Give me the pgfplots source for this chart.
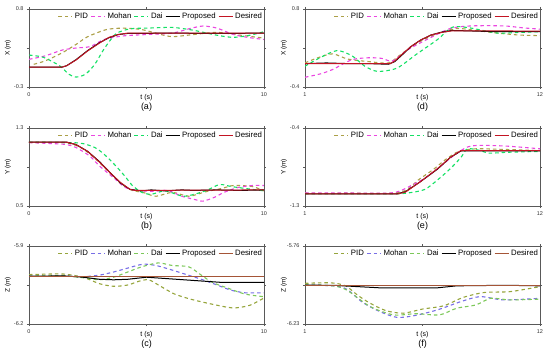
\documentclass[border=0pt]{standalone}
\usepackage{pgfplots}
\pgfplotsset{compat=1.18}
\usepackage{fontspec}
\setmainfont{Liberation Sans}
\definecolor{pidc}{RGB}{172,160,72}
\definecolor{mohc}{RGB}{235,70,225}
\definecolor{daic}{RGB}{20,225,100}
\definecolor{desc}{RGB}{195,20,35}
\definecolor{pidz}{RGB}{150,165,60}
\definecolor{mohz}{RGB}{120,110,230}
\definecolor{daiz}{RGB}{125,200,90}
\definecolor{desz}{RGB}{165,85,55}
\pgfplotsset{
  panel/.style={scale only axis, width=235pt, height=78pt,
    axis line style={black!65, line width=0.7pt},
    tick style={black!65, line width=0.6pt},
    tick align=outside, major tick length=2pt,
    ticklabel style={font=\fontsize{5.5}{6}\selectfont, text=black!80},
    /pgf/number format/assume math mode=true,
    legend columns=5,
    legend style={draw=none, fill=none, at={(1,1)}, anchor=north east, yshift=-1.5pt,
      font=\fontsize{7.8}{8}\selectfont, inner sep=0pt, outer sep=0pt,
      /tikz/every even column/.append style={column sep=0.5pt}},
    legend image code/.code={\draw[##1] (0pt,0pt) -- (14pt,0pt);},
    every axis plot/.append style={line width=1pt},
    no markers},
  dsh/.style={dash pattern=on 3.5pt off 3pt, line width=1.1pt, smooth, tension=0.45},
}
\begin{document}
\begin{tikzpicture}
\path[use as bounding box] (0pt,0pt) rectangle (550pt,-356pt);
% (a)
\begin{axis}[panel, at={(29pt,-9pt)}, anchor=north west,
  xmin=0, xmax=10, ymin=-0.3, ymax=0.8,
  xtick={0,5,10}, xticklabels={0,,10},
  ytick={-0.3,0.25,0.8}, yticklabels={-0.3,,0.8}]
\addplot[pidc, dsh] coordinates {(0.2,0.02)(0.7,0.07)(1.4,0.18)(2.0,0.30)(2.5,0.41)(3.3,0.51)(4.0,0.53)(4.8,0.51)(5.5,0.45)(6.1,0.41)(7.0,0.44)(8.0,0.47)(9.0,0.43)(10,0.39)};
\addlegendentry{PID}
\addplot[mohc, dsh] coordinates {(0,0.09)(0.7,0.14)(1.4,0.22)(2.0,0.25)(2.6,0.27)(3.2,0.37)(4.0,0.42)(5.0,0.44)(6.1,0.46)(6.8,0.52)(7.4,0.56)(8.0,0.53)(8.7,0.44)(9.3,0.40)(10,0.37)};
\addlegendentry{Mohan}
\addplot[daic, dsh] coordinates {(0,0.15)(0.6,0.12)(1.3,0.0)(1.7,-0.12)(2.0,-0.16)(2.4,-0.12)(2.8,0.02)(3.2,0.24)(3.7,0.45)(4.3,0.52)(5.0,0.53)(6.1,0.54)(7.0,0.50)(8.0,0.43)(8.7,0.40)(9.4,0.43)(10,0.48)};
\addlegendentry{Dai}
\addplot[black] coordinates {(0,-0.02)(1.4,-0.02)(1.6,0.0)(2.0,0.085)(2.5,0.215)(3.0,0.325)(3.4,0.395)(3.8,0.44)(4.2,0.455)(6,0.46)(8,0.455)(10,0.46)};
\addlegendentry{Proposed}
\addplot[desc] coordinates {(0,-0.02)(1.4,-0.02)(1.6,0.0)(2.0,0.08)(2.5,0.21)(3.0,0.32)(3.4,0.40)(3.8,0.44)(4.2,0.46)(10,0.46)};
\addlegendentry{Desired}
\end{axis}
% (d)
\begin{axis}[panel, at={(305pt,-9pt)}, anchor=north west,
  xmin=1, xmax=12, ymin=-0.4, ymax=0.8,
  xtick={1,6.5,12}, xticklabels={1,,12},
  ytick={-0.4,0.2,0.8}, yticklabels={-0.4,,0.8}]
\addplot[pidc, dsh] coordinates {(1,-0.03)(1.6,0.05)(2.3,0.11)(3.0,0.03)(4.0,-0.01)(4.9,-0.03)(5.4,0.08)(5.9,0.2)(6.5,0.32)(7.2,0.42)(8.1,0.50)(9,0.47)(10,0.43)(11,0.40)(12,0.39)};
\addlegendentry{PID}
\addplot[mohc, dsh] coordinates {(1,-0.25)(1.7,-0.2)(2.3,-0.13)(3.2,0.02)(4.0,0.05)(4.6,0.04)(5.1,0.0)(5.8,0.17)(6.7,0.33)(7.8,0.50)(8.8,0.54)(10.3,0.54)(11.2,0.51)(12,0.49)};
\addlegendentry{Mohan}
\addplot[daic, dsh] coordinates {(1,-0.08)(1.7,0.05)(2.5,0.16)(3.2,0.08)(3.8,-0.08)(4.4,-0.16)(5.3,-0.11)(6.2,0.10)(7.2,0.33)(7.9,0.52)(8.7,0.51)(10,0.43)(11,0.44)(12,0.45)};
\addlegendentry{Dai}
\addplot[black] coordinates {(1,-0.04)(2,-0.03)(3,-0.04)(4,-0.04)(4.9,-0.05)(5.2,-0.01)(5.6,0.11)(5.95,0.22)(6.4,0.32)(6.9,0.40)(7.4,0.445)(7.9,0.47)(9,0.46)(10,0.45)(12,0.45)};
\addlegendentry{Proposed}
\addplot[desc] coordinates {(1,-0.04)(5.0,-0.04)(5.2,0.0)(5.6,0.12)(5.95,0.22)(6.4,0.32)(6.9,0.40)(7.4,0.44)(7.9,0.465)(12,0.46)};
\addlegendentry{Desired}
\end{axis}
% (b)
\begin{axis}[panel, at={(29pt,-128pt)}, anchor=north west,
  xmin=0, xmax=10, ymin=0.5, ymax=1.3,
  xtick={0,5,10}, xticklabels={0,,10},
  ytick={0.5,0.9,1.3}, yticklabels={0.5,,1.3}]
\addplot[pidc, dsh] coordinates {(0,1.15)(1.5,1.15)(2.2,1.10)(2.8,0.99)(3.4,0.85)(3.9,0.73)(4.4,0.66)(4.85,0.64)(5.4,0.60)(6.1,0.64)(6.8,0.60)(7.5,0.645)(8.2,0.68)(8.7,0.71)(9.5,0.70)(10,0.655)};
\addlegendentry{PID}
\addplot[mohc, dsh] coordinates {(0,1.15)(1.0,1.14)(1.6,1.13)(2.0,1.10)(2.6,1.01)(3.0,0.91)(3.6,0.79)(4.1,0.69)(4.6,0.66)(5.3,0.65)(5.9,0.66)(6.5,0.60)(7.0,0.57)(7.4,0.55)(7.9,0.59)(8.3,0.64)(8.9,0.69)(9.5,0.71)(10,0.71)};
\addlegendentry{Mohan}
\addplot[daic, dsh] coordinates {(0,1.155)(1.8,1.15)(2.3,1.14)(2.8,1.10)(3.2,1.03)(3.7,0.91)(4.1,0.80)(4.4,0.71)(4.8,0.64)(5.2,0.62)(5.8,0.655)(6.6,0.60)(7.5,0.655)(8.1,0.72)(8.6,0.70)(9.2,0.68)(10,0.655)};
\addlegendentry{Dai}
\addplot[black] coordinates {(0,1.155)(1.6,1.155)(2.0,1.13)(2.5,1.06)(3.0,0.955)(3.5,0.83)(3.9,0.735)(4.3,0.67)(4.8,0.655)(5.2,0.665)(5.8,0.655)(6.5,0.665)(7,0.66)(8,0.665)(9,0.66)(10,0.665)};
\addlegendentry{Proposed}
\addplot[desc] coordinates {(0,1.155)(1.6,1.155)(2.0,1.13)(2.5,1.06)(3.0,0.95)(3.5,0.83)(3.9,0.74)(4.3,0.67)(4.5,0.66)(10,0.665)};
\addlegendentry{Desired}
\end{axis}
% (e)
\begin{axis}[panel, at={(305pt,-128pt)}, anchor=north west,
  xmin=1, xmax=12, ymin=-1.3, ymax=-0.4,
  xtick={1,6.5,12}, xticklabels={1,,12},
  ytick={-1.3,-0.85,-0.4}, yticklabels={-1.3,,-0.4}]
\addplot[pidc, dsh] coordinates {(1,-1.15)(2,-1.155)(3,-1.15)(4,-1.155)(5.2,-1.15)(5.8,-1.11)(6.3,-1.0)(7.0,-0.88)(7.6,-0.76)(8.2,-0.67)(9,-0.64)(10,-0.645)(12,-0.66)};
\addlegendentry{PID}
\addplot[mohc, dsh] coordinates {(1,-1.15)(3,-1.15)(5,-1.15)(5.6,-1.11)(6.0,-1.06)(6.6,-0.98)(7.3,-0.85)(8.0,-0.71)(8.6,-0.62)(9.2,-0.60)(10.5,-0.61)(12,-0.64)};
\addlegendentry{Mohan}
\addplot[daic, dsh] coordinates {(1,-1.16)(5,-1.16)(5.8,-1.15)(6.6,-1.11)(7.2,-1.0)(7.8,-0.87)(8.3,-0.74)(8.6,-0.64)(9.2,-0.66)(9.6,-0.69)(10.5,-0.68)(12,-0.67)};
\addlegendentry{Dai}
\addplot[black] coordinates {(1,-1.16)(5.3,-1.16)(5.7,-1.135)(6.4,-1.02)(7.2,-0.875)(7.8,-0.74)(8.3,-0.665)(9,-0.665)(12,-0.665)};
\addlegendentry{Proposed}
\addplot[desc] coordinates {(1,-1.16)(5.35,-1.16)(5.7,-1.14)(6.4,-1.02)(7.2,-0.87)(7.8,-0.74)(8.3,-0.66)(12,-0.66)};
\addlegendentry{Desired}
\end{axis}
% (c)
\begin{axis}[panel, at={(29pt,-246pt)}, anchor=north west,
  xmin=0, xmax=10, ymin=-6.2, ymax=-5.9,
  xtick={0,5,10}, xticklabels={0,,10},
  ytick={-6.2,-6.05,-5.9}, yticklabels={-6.2,,-5.9}]
\addplot[pidz, dsh] coordinates {(0,-6.01)(0.8,-6.008)(1.5,-6.008)(2.3,-6.02)(3.0,-6.045)(3.6,-6.055)(4.2,-6.05)(4.7,-6.035)(5.1,-6.03)(5.6,-6.055)(6.2,-6.085)(6.9,-6.105)(7.6,-6.12)(8.4,-6.135)(8.8,-6.138)(9.4,-6.128)(10,-6.10)};
\addlegendentry{PID}
\addplot[mohz, dsh] coordinates {(0,-6.016)(1.5,-6.015)(2.3,-6.018)(3.0,-6.012)(3.6,-6.0)(4.2,-5.985)(4.85,-5.97)(5.4,-5.975)(6.0,-5.99)(6.7,-6.01)(7.4,-6.03)(8.0,-6.05)(8.6,-6.07)(9.2,-6.08)(10,-6.08)};
\addlegendentry{Mohan}
\addplot[daiz, dsh] coordinates {(0,-6.016)(1.5,-6.015)(2.3,-6.022)(3.0,-6.03)(3.6,-6.02)(4.2,-6.0)(4.8,-5.98)(5.5,-5.965)(6.1,-5.975)(6.8,-5.98)(7.3,-6.01)(7.8,-6.04)(8.4,-6.06)(9.2,-6.085)(10,-6.095)};
\addlegendentry{Dai}
\addplot[black] coordinates {(0,-6.016)(1.5,-6.015)(2.3,-6.02)(3.0,-6.028)(3.6,-6.03)(4.2,-6.028)(5.0,-6.02)(5.8,-6.025)(6.6,-6.03)(7.4,-6.035)(8.2,-6.04)(9,-6.04)(10,-6.04)};
\addlegendentry{Proposed}
\addplot[desz] coordinates {(0,-6.016)(10,-6.016)};
\addlegendentry{Desired}
\end{axis}
% (f)
\begin{axis}[panel, at={(305pt,-246pt)}, anchor=north west,
  xmin=1, xmax=12, ymin=-6.23, ymax=-5.76,
  xtick={1,6.5,12}, xticklabels={1,,12},
  ytick={-6.23,-5.995,-5.76}, yticklabels={-6.23,,-5.76}]
\addplot[pidz, dsh] coordinates {(1,-5.985)(1.7,-5.982)(2.3,-5.983)(2.9,-6.0)(3.5,-6.06)(4.05,-6.105)(4.8,-6.15)(5.6,-6.165)(6.5,-6.14)(7.5,-6.12)(8.4,-6.07)(9.4,-6.04)(10.6,-6.035)(12,-6.005)};
\addlegendentry{PID}
\addplot[mohz, dsh] coordinates {(1,-5.995)(2.3,-6.0)(2.95,-6.02)(3.7,-6.1)(4.5,-6.155)(5.3,-6.19)(6.1,-6.18)(7.2,-6.145)(8.3,-6.095)(9.2,-6.065)(10.3,-6.085)(12,-6.075)};
\addlegendentry{Mohan}
\addplot[daiz, dsh] coordinates {(1,-5.995)(2.3,-6.0)(2.95,-6.025)(4.05,-6.125)(5.15,-6.175)(6.2,-6.168)(7.3,-6.175)(8.1,-6.135)(9.0,-6.115)(9.7,-6.075)(10.6,-6.085)(12,-6.08)};
\addlegendentry{Dai}
\addplot[black] coordinates {(1,-5.995)(2.5,-5.998)(3.5,-6.005)(4.5,-6.012)(5.5,-6.013)(7.2,-6.012)(8.1,-6.0)(9.5,-5.998)(11,-5.998)(12,-6.0)};
\addlegendentry{Proposed}
\addplot[desz] coordinates {(1,-5.995)(12,-5.995)};
\addlegendentry{Desired}
\end{axis}
% labels
\begin{scope}[every node/.style={inner sep=0pt}]
\node[rotate=90, font=\fontsize{6.5}{7}\selectfont] at (8pt,-48pt) {X (m)};
\node[rotate=90, font=\fontsize{6.5}{7}\selectfont] at (284pt,-48pt) {X (m)};
\node[rotate=90, font=\fontsize{6.5}{7}\selectfont] at (8pt,-167pt) {Y (m)};
\node[rotate=90, font=\fontsize{6.5}{7}\selectfont] at (284pt,-167pt) {Y (m)};
\node[rotate=90, font=\fontsize{6.5}{7}\selectfont] at (8pt,-285pt) {Z (m)};
\node[rotate=90, font=\fontsize{6.5}{7}\selectfont] at (284pt,-285pt) {Z (m)};
\foreach \cx/\by/\lab in {146.5/87/a, 422.5/87/d, 146.5/206/b, 422.5/206/e, 146.5/324/c, 422.5/324/f}{
  \node[font=\fontsize{7}{8}\selectfont] at (\cx pt,-\by pt-11pt) {t (s)};
  \node[font=\fontsize{9}{10}\selectfont] at (\cx pt,-\by pt-20pt) {(\lab)};
}
\end{scope}
\end{tikzpicture}
\end{document}
